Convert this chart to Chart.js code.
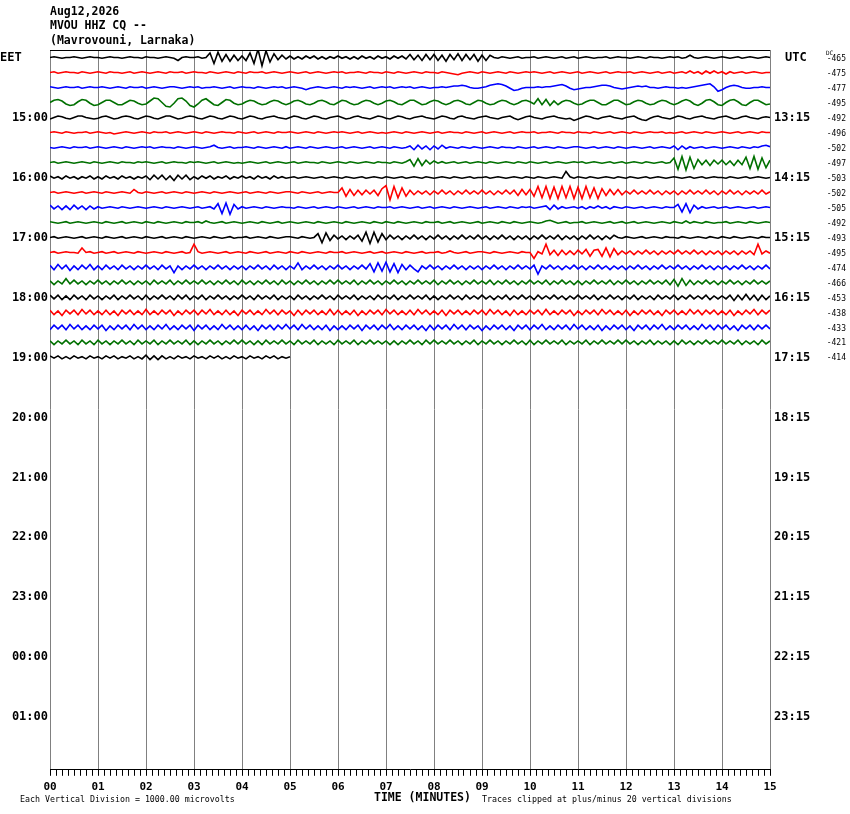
<!DOCTYPE html>
<html>
<head>
<meta charset="utf-8">
<title>MVOU HHZ CQ -- helicorder</title>
<script src="https://cdn.jsdelivr.net/npm/chart.js@4.4.1/dist/chart.umd.min.js"></script>
<style>
  html, body { margin: 0; padding: 0; background: #fff; overflow: hidden; }
  canvas { display: block; }
</style>
</head>
<body>
<canvas id="heli" width="850" height="814"></canvas>
<script>
// --- Labels ---
const titleLines = ['Aug12,2026', 'MVOU HHZ CQ --', '(Mavrovouni, Larnaka)'];
const minuteLabels = ['00', '01', '02', '03', '04', '05', '06', '07', '08', '09', '10', '11', '12', '13', '14', '15'];
const localHourLabels = ['15:00', '16:00', '17:00', '18:00', '19:00', '20:00', '21:00', '22:00', '23:00', '00:00', '01:00'];
const utcHourLabels = ['13:15', '14:15', '15:15', '16:15', '17:15', '18:15', '19:15', '20:15', '21:15', '22:15', '23:15'];
const dcOffsets = [-465, -475, -477, -495, -492, -496, -502, -497, -503, -502, -505, -492, -493, -495, -474, -466, -453, -438, -433, -421, -414];

// --- Trace samples: one value every 5 s, in units of 50 microvolts ---
const tr1400 = [
  0,1,0,-1,0,0,1,0,-1,0,1,0,
  0,-1,0,1,0,0,-1,0,1,0,0,-1,
  1,0,0,-1,0,1,0,-1,-4,0,1,0,
  0,1,-1,0,6,-8,7,-5,4,-5,3,-4,
  2,-4,6,-8,11,-11,9,-6,5,-3,3,-2,
  2,-2,1,-2,2,-1,2,-2,1,-2,1,-1,
  2,-1,1,-2,1,-2,2,-1,1,-2,2,-1,
  1,-2,2,-1,2,-2,4,-3,3,-4,4,-3,
  4,-4,3,-5,4,-3,5,-4,4,-3,4,-5,
  3,-4,3,0,-1,1,0,-1,0,1,-1,0,
  0,1,-1,0,1,0,-1,0,1,-1,0,1,
  -1,0,1,0,-1,0,0,1,-1,0,1,0,
  0,-1,0,1,0,-1,1,0,0,-1,0,1,
  0,1,-1,0,3,0,-1,0,1,0,-1,0,
  1,0,-1,0,1,-1,0,1,0,-1,0,1,
  0];
const tr1415 = [
  0,1,-1,0,1,0,0,-1,1,0,-1,0,
  1,0,-1,1,0,0,-1,0,1,-1,0,1,
  0,-1,0,1,0,-1,1,0,0,1,-1,0,
  1,0,0,-1,1,0,-1,0,1,0,-1,1,
  0,-1,1,0,0,1,-1,0,1,0,-1,0,
  1,0,-1,0,1,-1,0,1,0,-1,0,1,
  0,1,-1,0,0,1,0,-1,1,0,0,-1,
  1,0,-1,1,0,-1,0,1,0,-1,1,0,
  0,-1,1,0,-1,-2,-3,-1,0,1,0,-1,
  1,0,-1,0,1,0,-1,1,0,-1,0,1,
  0,1,0,-1,0,1,-1,0,1,0,-1,0,
  1,-1,0,1,0,-1,0,1,-1,0,1,0,
  0,1,-1,0,1,0,-1,0,1,-1,0,1,
  -1,0,1,-1,2,-1,1,-2,2,-1,2,-1,
  1,-2,1,-1,0,1,-1,0,1,0,-1,0,
  0];
const tr1430 = [
  1,0,-1,0,1,0,0,1,-1,0,1,0,
  0,1,0,-1,0,1,0,-1,1,0,0,1,
  -1,0,1,0,-1,0,1,1,0,-1,0,1,
  0,1,-1,0,0,1,0,-1,0,1,-1,0,
  1,0,0,-1,1,0,-1,0,1,0,1,-1,
  0,1,0,-1,-3,-1,0,1,0,-1,0,1,
  0,-1,1,0,1,0,-1,0,1,-1,0,1,
  0,1,-1,0,1,0,1,-1,0,1,0,-1,
  0,0,1,0,1,2,2,3,2,0,-1,-1,
  0,1,3,4,5,4,2,-1,-4,-3,-1,0,
  0,0,1,0,1,1,2,3,4,2,-1,-3,
  -2,-1,0,0,1,2,3,3,2,0,-1,-2,
  -1,0,1,2,1,2,0,0,-1,0,1,0,
  0,-1,0,-1,0,1,2,3,4,5,1,-5,
  -3,0,2,3,2,0,-1,-1,0,0,1,0,
  0];
const tr1445 = [
  0,3,4,2,-2,-4,-3,1,4,3,-1,-4,
  -3,0,3,3,0,-3,-3,0,3,2,-1,-3,
  -2,2,6,5,0,-5,-6,-1,5,6,2,-4,
  -6,-2,3,5,1,-3,-4,0,4,3,-1,-3,
  -2,1,3,2,-1,-3,-2,1,3,2,-1,-3,
  -1,2,3,1,-2,-3,-1,2,3,1,-2,-3,
  0,3,2,-1,-3,-2,1,3,2,-1,-3,-1,
  2,3,1,-2,-3,0,3,3,0,-3,-2,1,
  3,2,-1,-3,-1,2,3,1,-2,-3,0,3,
  2,-1,-3,-2,1,3,2,-1,-3,-1,2,3,
  1,-2,5,-3,4,-4,2,-3,1,3,2,-1,
  -3,-2,1,3,3,0,-3,-3,0,3,3,0,
  -3,-2,1,3,2,-1,-3,-2,1,3,2,-1,
  -3,-1,2,4,2,-2,-4,-1,3,4,1,-3,
  -4,0,3,4,1,-3,-4,0,3,3,0,-3,
  -2];
const tr1500 = [
  -2,0,2,1,-1,-2,0,2,2,0,-1,-2,
  -1,1,2,0,-2,-1,1,2,1,-1,-2,0,
  2,1,-1,-2,0,2,2,0,-2,-1,1,2,
  1,-1,-2,0,2,1,-1,-2,0,2,1,-1,
  -2,0,2,1,-1,-2,0,1,2,0,-1,-2,
  0,2,1,-1,-2,0,2,1,-1,-2,0,1,
  2,0,-2,-1,1,2,0,-1,-2,0,2,1,
  -1,-2,0,2,1,-1,-2,0,1,2,0,-1,
  -2,0,2,1,-1,-2,1,2,0,-1,-2,0,
  1,2,0,-1,-2,0,1,2,-1,-3,-1,1,
  2,0,-1,-2,0,1,2,0,-1,-2,-1,-4,
  -2,0,2,1,-1,-2,0,1,2,0,-1,-2,
  0,1,2,-1,-3,-4,-1,1,2,0,-1,-2,
  0,2,1,-1,-2,0,1,2,0,-1,-2,0,
  1,2,0,-2,-1,1,2,0,-1,-2,0,1,
  0];
const tr1515 = [
  0,1,0,-1,1,0,-1,0,0,1,-1,0,
  1,0,-1,0,-2,-1,0,1,0,-1,0,1,
  0,-1,1,0,0,1,-1,0,1,0,-1,0,
  1,0,-1,1,0,-1,0,1,0,0,-1,1,
  0,-1,0,1,-1,0,1,0,-1,1,0,0,
  1,0,-1,0,1,0,-1,1,0,-1,0,1,
  0,1,0,-1,0,1,-1,0,1,0,-1,0,
  -1,0,1,0,-1,1,0,-1,0,1,0,-1,
  0,1,-1,0,1,0,0,-1,1,0,-1,0,
  1,-1,0,1,0,-1,0,1,-1,0,1,0,
  0,1,-1,0,0,1,0,-1,1,0,0,-1,
  1,0,0,-1,1,0,-1,0,1,-1,0,1,
  0,-1,1,0,-1,0,1,0,0,1,-1,0,
  -1,0,1,-1,0,1,0,-1,1,0,-1,0,
  1,0,-1,0,1,-1,0,1,0,-1,1,0,
  0];
const tr1530 = [
  0,-1,0,1,0,-1,1,0,0,1,-1,0,
  1,0,-1,0,1,0,-1,1,0,-1,0,1,
  0,1,-1,0,1,0,0,-1,1,0,-1,0,
  1,0,-1,0,1,3,0,-1,0,1,-1,0,
  0,1,0,-1,1,0,-1,0,1,0,-1,1,
  -1,0,1,0,-1,1,0,-1,0,1,0,-1,
  0,1,-1,0,1,0,-1,0,1,-1,0,1,
  0,-1,1,0,-1,0,2,-3,3,-2,2,-3,
  2,-2,3,-1,1,0,-1,1,0,-1,1,0,
  -1,0,1,0,-1,1,0,0,-1,1,0,-1,
  0,1,-1,0,1,0,-1,1,0,-1,0,1,
  1,0,-1,0,1,-1,0,1,0,-1,1,0,
  -1,0,1,0,-1,0,1,-1,0,1,0,-1,
  2,-3,2,-2,1,-1,0,1,-1,0,1,0,
  -1,0,1,0,-1,1,0,-1,1,0,2,3,
  1];
const tr1545 = [
  0,1,-1,0,1,0,-1,0,1,0,-1,1,
  0,-1,0,1,0,-1,1,0,0,-1,1,0,
  1,0,-1,0,1,-1,0,1,0,0,-1,1,
  0,1,0,-1,0,1,-1,0,1,0,-1,0,
  -1,0,1,0,-1,0,1,-1,0,1,0,-1,
  0,1,-1,0,1,0,0,-1,1,0,-1,0,
  1,0,-1,1,0,-1,0,1,0,-1,1,0,
  0,-1,1,0,-1,1,4,-5,5,-4,3,-2,
  2,-1,1,-1,0,1,-1,0,1,-1,0,1,
  0,-1,1,0,-1,0,1,0,-1,1,0,-1,
  1,0,-1,0,1,-1,0,1,0,-1,0,1,
  0,1,-1,0,1,0,-1,0,1,-1,0,1,
  -1,0,1,0,-1,1,0,-1,0,1,-1,0,
  6,-9,8,-10,7,-8,4,-3,3,-4,3,-2,
  3,-3,2,-4,3,-3,7,-8,8,-9,6,-7,
  3];
const tr1600 = [
  2,-1,1,-2,2,-1,1,-2,1,-1,2,-2,
  1,-2,2,-1,1,-2,2,-1,1,-2,1,-1,
  2,-3,3,-2,3,-3,2,-4,3,-2,3,-3,
  1,-2,2,-1,2,-2,1,-1,2,-2,1,-1,
  2,-1,1,-2,2,-1,1,-2,2,-1,1,-1,
  0,1,-1,0,1,0,-1,0,1,-1,0,1,
  0,-1,1,0,-1,0,1,-1,0,1,0,-1,
  1,0,-1,0,1,-1,0,1,0,-1,1,0,
  -1,0,1,0,-1,1,0,-1,0,1,-1,0,
  0,1,-1,0,1,0,-1,0,1,0,-1,1,
  0,-1,1,0,-1,0,1,0,-1,8,1,-1,
  1,0,-1,1,0,-1,0,1,0,-1,1,0,
  -1,1,0,-1,0,1,-1,0,1,0,-1,0,
  1,0,-1,0,1,-1,0,1,-1,0,1,0,
  0,-1,1,0,-1,0,1,-1,0,1,0,-1,
  0];
const tr1615 = [
  0,1,-1,0,1,0,-1,0,1,-1,0,1,
  0,-1,1,0,-1,0,1,0,-1,4,0,-1,
  1,0,-1,0,1,-1,0,1,0,-1,1,0,
  -1,0,1,0,-1,1,0,-1,0,1,0,-1,
  0,1,-1,0,1,0,-1,1,0,-1,0,1,
  1,0,-1,1,0,-1,0,1,-1,0,1,0,
  0,6,-5,4,-4,3,-3,3,-2,3,-4,5,
  9,-10,8,-7,6,-5,3,-3,2,-2,2,-3,
  2,-2,3,-2,2,-3,2,-2,3,-2,2,-2,
  3,-2,2,-3,2,-2,3,-2,3,-4,4,-3,
  4,-5,8,-7,8,-8,7,-8,8,-7,8,-8,
  7,-8,8,-7,6,-8,5,-4,4,-3,4,-3,
  2,-2,3,-2,2,-2,3,-2,2,-3,2,-2,
  2,-3,2,-2,3,-2,2,-2,3,-2,2,-3,
  2,-2,3,-2,2,-3,2,-2,2,-2,3,-2,
  1];
const tr1630 = [
  3,-2,2,-3,2,-3,3,-2,2,-3,2,-2,
  1,-1,0,1,0,-1,1,0,-1,0,1,0,
  -1,0,1,0,-1,1,0,-1,0,1,0,-1,
  0,1,-1,0,1,-2,5,-8,6,-9,4,-2,
  1,-1,0,1,0,-1,1,0,-1,0,1,0,
  0,-1,1,0,-1,0,1,-1,0,1,0,-1,
  1,0,-1,0,1,-1,0,1,0,-1,1,0,
  0,1,-1,0,1,0,-1,0,1,-1,0,1,
  -1,0,1,0,-1,1,0,-1,0,1,0,-1,
  0,1,-1,0,1,0,-1,1,0,-1,1,0,
  1,-1,0,1,2,-3,3,-2,1,-1,0,1,
  -1,1,-2,1,-1,2,-1,1,-2,1,0,-1,
  1,0,-1,0,1,-1,0,1,0,-1,1,0,
  0,4,-6,5,-7,3,-2,1,-1,0,1,-1,
  0,1,-1,0,1,0,-1,0,1,-1,0,1,
  0];
const tr1645 = [
  1,0,-1,0,1,-1,0,1,0,-1,0,1,
  0,-1,1,0,-1,0,1,-1,0,1,0,-1,
  1,0,-1,1,0,-1,0,1,0,-1,1,0,
  0,1,-1,2,0,-1,0,1,-1,0,1,0,
  -1,0,1,0,-1,1,0,-1,0,1,-1,0,
  1,0,-1,0,1,0,-1,1,0,-1,0,1,
  0,-1,1,0,-1,0,1,0,-1,1,0,-1,
  1,0,-1,1,0,-1,0,1,0,-1,1,0,
  0,1,-1,0,1,-1,0,1,0,-1,0,1,
  -1,0,1,0,-1,1,0,-1,1,0,-1,0,
  1,0,-1,0,2,3,1,-1,0,1,-1,0,
  0,1,-1,0,1,0,-1,0,1,-1,0,1,
  -1,0,1,-1,0,1,0,-1,0,1,0,-1,
  1,0,-1,2,-1,1,0,-1,1,0,-1,0,
  0,1,-1,0,1,0,-1,1,0,-1,0,1,
  0];
const tr1700 = [
  0,1,-1,0,1,0,-1,0,1,-1,0,1,
  0,-1,1,0,-1,0,1,-1,0,1,0,-1,
  1,0,-1,0,1,-1,0,1,0,-1,1,0,
  -1,0,1,0,-1,1,0,-1,0,1,-1,0,
  0,1,-1,0,1,0,-1,1,0,-1,0,1,
  1,0,-1,1,0,-1,0,5,-7,6,-4,3,
  -2,2,-3,2,-2,3,-5,7,-8,7,-6,5,
  -3,3,-2,2,-3,2,-2,3,-2,2,-3,2,
  -2,3,-2,2,-3,2,-2,3,-2,2,-2,3,
  -2,2,-3,2,-2,3,-2,2,-3,2,-2,2,
  -3,2,-2,3,-2,2,-2,3,-3,2,-2,2,
  -3,2,-2,3,-2,2,-3,2,-2,3,0,-1,
  1,0,-1,0,1,-1,0,1,0,-1,1,0,
  0,-1,1,0,-1,0,1,0,-1,1,0,-1,
  1,0,-1,1,0,-1,0,1,0,-1,1,0,
  0];
const tr1715 = [
  0,1,-1,0,1,0,0,-1,6,0,1,-1,
  0,1,-1,0,1,-1,0,1,0,-1,1,0,
  -1,0,1,0,-1,1,0,-1,0,1,-1,0,
  11,1,-1,0,1,0,-1,0,1,-1,0,1,
  0,-1,1,0,-1,0,1,-1,0,1,0,-1,
  1,0,-1,1,0,-1,0,1,0,-1,1,0,
  0,1,-1,0,1,0,-1,0,1,-1,0,1,
  -1,0,1,0,-1,1,0,-1,0,1,-1,0,
  0,1,-1,0,2,0,-1,0,1,-1,0,1,
  1,0,-1,1,0,-1,0,1,0,-1,1,0,
  0,-8,1,-2,11,-3,3,-4,3,-3,2,-3,
  3,-2,4,-5,3,4,-5,6,-6,5,-3,2,
  -2,2,-3,2,-2,3,-2,2,-3,2,-2,2,
  -2,3,-2,2,-2,3,-2,2,-3,2,-2,2,
  -3,2,-2,2,-3,2,-2,2,-3,11,-2,2,
  -1];
const tr1730 = [
  3,-3,4,-2,3,-4,2,-3,3,-2,4,-3,
  2,-3,3,-2,2,-3,3,-2,2,-3,2,-2,
  3,-2,2,-3,3,-2,2,-7,2,-3,2,-2,
  3,-2,2,-3,2,-2,3,-2,2,-3,2,-2,
  2,-3,2,-2,3,-2,2,-3,3,-2,2,-3,
  2,-2,6,-3,2,-2,3,-2,2,-3,2,-2,
  3,-2,2,-3,2,-2,3,-2,5,-6,6,-5,
  7,-6,5,-7,4,-3,3,-2,-6,2,-2,3,
  -2,2,-3,2,-2,3,-2,2,-3,2,-2,2,
  -3,2,-2,3,-2,2,-3,2,-2,3,-2,2,
  -2,3,-9,2,-2,3,-2,2,-3,2,-2,3,
  -2,2,-3,2,-2,3,-2,2,-3,2,-2,2,
  -3,2,-2,3,-2,2,-3,2,-2,3,-2,2,
  -2,3,-2,2,-3,2,-2,3,-2,2,-3,2,
  -2,2,-3,2,-2,3,-2,2,-3,2,-2,3,
  -2];
const tr1745 = [
  2,-3,2,-2,5,-2,3,-2,2,-3,2,-2,
  3,-2,2,-3,2,-2,3,-2,2,-3,2,-2,
  2,-3,3,-2,2,-2,3,-3,2,-2,3,-2,
  2,-2,3,-2,2,-3,2,-2,3,-2,2,-3,
  3,-2,2,-3,2,-2,3,-2,2,-3,3,-2,
  2,-3,2,-2,3,-2,2,-3,2,-2,3,-2,
  3,-2,2,-2,3,-3,2,-2,3,-2,2,-3,
  2,-2,3,-2,2,-3,2,-2,3,-2,2,-2,
  3,-3,2,-2,3,-2,2,-3,2,-2,3,-2,
  2,-2,3,-3,2,-2,3,-2,2,-3,2,-2,
  3,-2,2,-2,3,-3,2,-2,3,-2,2,-3,
  2,-3,2,-2,3,-2,2,-2,3,-3,2,-2,
  3,-2,2,-3,2,-2,3,-2,2,-2,3,-3,
  4,-5,5,-4,3,-3,2,-2,3,-2,2,-3,
  2,-2,3,-2,2,-3,2,-2,3,-2,2,-2,
  2];
const tr1800 = [
  3,-2,3,-3,2,-3,3,-2,2,-3,3,-2,
  2,-3,2,-2,3,-3,2,-2,3,-2,2,-3,
  3,-3,2,-2,3,-2,2,-3,3,-2,3,-3,
  2,-2,3,-3,2,-2,3,-2,2,-3,2,-2,
  3,-2,2,-3,3,-2,2,-2,3,-3,2,-2,
  2,-3,3,-2,2,-3,2,-2,3,-2,2,-3,
  3,-2,2,-2,3,-3,2,-2,2,-3,3,-2,
  2,-2,3,-3,2,-2,3,-2,2,-2,3,-3,
  2,-3,2,-2,3,-2,2,-3,3,-2,2,-2,
  3,-2,2,-3,2,-2,3,-3,2,-2,3,-2,
  2,-3,3,-2,2,-2,3,-2,2,-3,2,-2,
  3,-2,2,-2,3,-3,2,-2,3,-2,2,-3,
  2,-2,3,-3,2,-2,2,-3,3,-2,2,-2,
  3,-3,2,-2,3,-2,2,-2,3,-3,2,-2,
  2,-2,3,-4,3,-3,4,-3,3,-4,3,-3,
  2];
const tr1815 = [
  3,-3,2,-4,3,-2,3,-3,4,-2,3,-3,
  2,-3,3,-3,2,-4,3,-2,3,-3,2,-3,
  4,-3,2,-3,3,-2,3,-4,2,-3,3,-2,
  3,-3,3,-2,4,-3,2,-3,3,-3,2,-4,
  3,-2,3,-3,2,-3,4,-2,3,-3,3,-2,
  2,-4,3,-3,3,-2,3,-3,2,-3,4,-3,
  3,-3,2,-3,3,-4,2,-3,3,-2,3,-3,
  4,-2,3,-3,2,-3,3,-3,4,-2,3,-3,
  2,-3,3,-4,3,-2,3,-3,2,-3,3,-2,
  3,-3,4,-2,3,-3,2,-4,3,-3,2,-3,
  3,-2,3,-3,4,-3,2,-3,3,-2,3,-4,
  2,-3,3,-2,3,-3,4,-2,3,-3,2,-3,
  3,-4,2,-3,3,-2,3,-3,2,-4,3,-2,
  3,-3,2,-3,4,-2,3,-3,3,-2,3,-3,
  2,-3,3,-4,2,-3,3,-2,4,-3,3,-2,
  3];
const tr1830 = [
  -3,3,-2,3,-3,4,-2,3,-3,2,-3,3,
  -2,3,-4,2,-3,3,-2,3,-3,4,-2,3,
  -3,2,-3,3,-2,4,-3,2,-3,3,-2,3,
  -4,3,-2,3,-3,2,-3,4,-2,3,-3,2,
  -3,3,-3,2,-4,3,-2,3,-3,3,-2,4,
  -2,3,-3,4,-2,3,-3,2,-3,3,-4,2,
  -3,2,-3,3,-2,3,-4,3,-2,3,-3,3,
  -2,4,-3,2,-3,3,-2,3,-3,2,-4,3,
  -3,3,-2,3,-3,4,-2,3,-3,3,-2,2,
  -4,2,-3,3,-2,3,-3,2,-4,3,-2,3,
  -3,3,-2,4,-3,2,-3,3,-2,3,-3,4,
  -2,3,-3,2,-3,3,-4,2,-3,3,-2,3,
  -3,2,-4,3,-2,3,-3,3,-2,4,-3,2,
  -3,3,-2,3,-3,2,-3,4,-2,3,-3,3,
  -2,3,-3,2,-4,3,-2,3,-3,3,-2,3,
  -2];
const tr1845 = [
  2,-3,2,-2,3,-2,2,-3,3,-2,2,-3,
  3,-2,2,-3,2,-2,3,-2,2,-3,3,-2,
  2,-2,3,-3,2,-2,3,-2,2,-2,3,-3,
  2,-3,2,-2,3,-2,2,-3,2,-2,3,-2,
  3,-2,2,-3,2,-3,3,-2,2,-2,3,-2,
  2,-3,3,-2,2,-2,3,-3,2,-2,2,-3,
  3,-2,2,-2,3,-3,2,-2,3,-2,2,-2,
  2,-3,2,-3,2,-2,3,-2,2,-3,3,-2,
  3,-2,2,-2,3,-2,2,-3,2,-2,3,-3,
  2,-2,3,-2,2,-3,2,-2,3,-2,2,-3,
  3,-3,2,-2,3,-2,2,-2,3,-3,2,-2,
  2,-2,3,-3,2,-2,3,-2,2,-2,3,-2,
  3,-2,2,-3,2,-2,3,-3,2,-2,2,-3,
  2,-3,3,-2,2,-3,2,-2,3,-2,2,-2,
  3,-2,2,-2,3,-3,2,-2,2,-3,3,-2,
  2];
const tr1900 = [
  2,-1,2,-2,1,-2,2,-1,1,-2,2,-1,
  1,-2,2,-1,2,-2,1,-1,2,-2,1,-2,
  3,-3,2,-3,2,-2,1,-2,2,-1,1,-2,
  2,-1,1,-2,2,-1,2,-2,1,-2,2,-1,
  1,-2,2,-1,1,-2,2,-1,2,-2,1,-1,
  1];

const traces = [
  tr1400, tr1415, tr1430, tr1445, tr1500, tr1515, tr1530, tr1545,
  tr1600, tr1615, tr1630, tr1645, tr1700, tr1715, tr1730, tr1745,
  tr1800, tr1815, tr1830, tr1845, tr1900
];

// --- Plot constants ---
const SAMPLES_PER_MIN = 12;
const UV_PER_UNIT = 50;
const UV_PER_DIV = 1000;
const MINUTES = 15;
const ROWS = 48;
const ROWS_PER_HOUR = 4;
const TICKS_PER_MIN = 8;
const traceColors = ['#000000', '#ff0000', '#0000ff', '#007000'];

const datasets = traces.map((vals, row) => ({
    data: vals.map((v, i) => ({ x: i / SAMPLES_PER_MIN, y: row + 0.5 - v * UV_PER_UNIT / UV_PER_DIV })),
    borderColor: traceColors[row % traceColors.length],
    borderWidth: 1.6,
    pointRadius: 0,
    fill: false,
    tension: 0
}));

// --- Text around the drum ---
const heliText = {
    id: 'heliText',
    afterDraw(chart) {
        const { ctx, chartArea: a, scales: { y } } = chart;
        const rowY = r => y.getPixelForValue(r + 0.5);
        ctx.save();

        // top edge of the record
        ctx.strokeStyle = '#000';
        ctx.lineWidth = 1;
        ctx.beginPath();
        ctx.moveTo(a.left, a.top + 0.5);
        ctx.lineTo(a.right, a.top + 0.5);
        ctx.stroke();

        ctx.fillStyle = '#000';
        ctx.textBaseline = 'middle';
        ctx.font = 'bold 11.5px "DejaVu Sans Mono"';
        ctx.textAlign = 'left';
        titleLines.forEach((t, i) => ctx.fillText(t, a.left, 12 + i * 14.5));

        ctx.font = 'bold 12px "DejaVu Sans Mono"';
        ctx.fillText('EET', 0, rowY(0));
        ctx.fillText('UTC', a.right + 15, rowY(0));
        utcHourLabels.forEach((t, i) => ctx.fillText(t, a.right + 4, rowY((i + 1) * ROWS_PER_HOUR)));
        ctx.textAlign = 'right';
        localHourLabels.forEach((t, i) => ctx.fillText(t, a.left - 2, rowY((i + 1) * ROWS_PER_HOUR)));

        ctx.font = '8px "DejaVu Sans Mono"';
        dcOffsets.forEach((d, i) => ctx.fillText(String(d), 846, rowY(i) + 1));
        ctx.textAlign = 'left';
        ctx.font = '6px "DejaVu Sans Mono"';
        ctx.fillText('DC', 826, a.top + 3);

        ctx.font = 'bold 11.5px "DejaVu Sans Mono"';
        ctx.fillText('TIME (MINUTES)', 374, 798);
        ctx.font = '8.3px "DejaVu Sans Mono"';
        ctx.fillText('Each Vertical Division = ' + UV_PER_DIV.toFixed(2) + ' microvolts', 20, 800);
        ctx.fillText('Traces clipped at plus/minus 20 vertical divisions', 482, 800);
        ctx.restore();
    }
};

new Chart(document.getElementById('heli'), {
    type: 'line',
    data: { datasets },
    plugins: [heliText],
    options: {
        responsive: false,
        animation: false,
        events: [],
        layout: { padding: { left: 50, right: 80, top: 50, bottom: 15 } },
        plugins: { legend: { display: false }, tooltip: { enabled: false } },
        scales: {
            x: {
                type: 'linear',
                min: 0,
                max: MINUTES,
                afterBuildTicks: scale => {
                    scale.ticks = [];
                    for (let i = 0; i <= MINUTES * TICKS_PER_MIN; i++) scale.ticks.push({ value: i / TICKS_PER_MIN });
                },
                grid: {
                    color: c => Number.isInteger(c.tick && c.tick.value) ? '#808080' : 'rgba(0,0,0,0)',
                    tickColor: '#000',
                    tickLength: 6,
                    lineWidth: 1
                },
                border: { display: true, color: '#000', width: 1 },
                ticks: {
                    autoSkip: false,
                    maxRotation: 0,
                    padding: 5,
                    color: '#000',
                    font: { family: 'DejaVu Sans Mono', weight: 'bold', size: 11 },
                    callback: v => Number.isInteger(v) ? minuteLabels[v] : ''
                }
            },
            y: {
                type: 'linear',
                display: false,
                min: 0,
                max: ROWS,
                reverse: true
            }
        }
    }
});
</script>
</body>
</html>
